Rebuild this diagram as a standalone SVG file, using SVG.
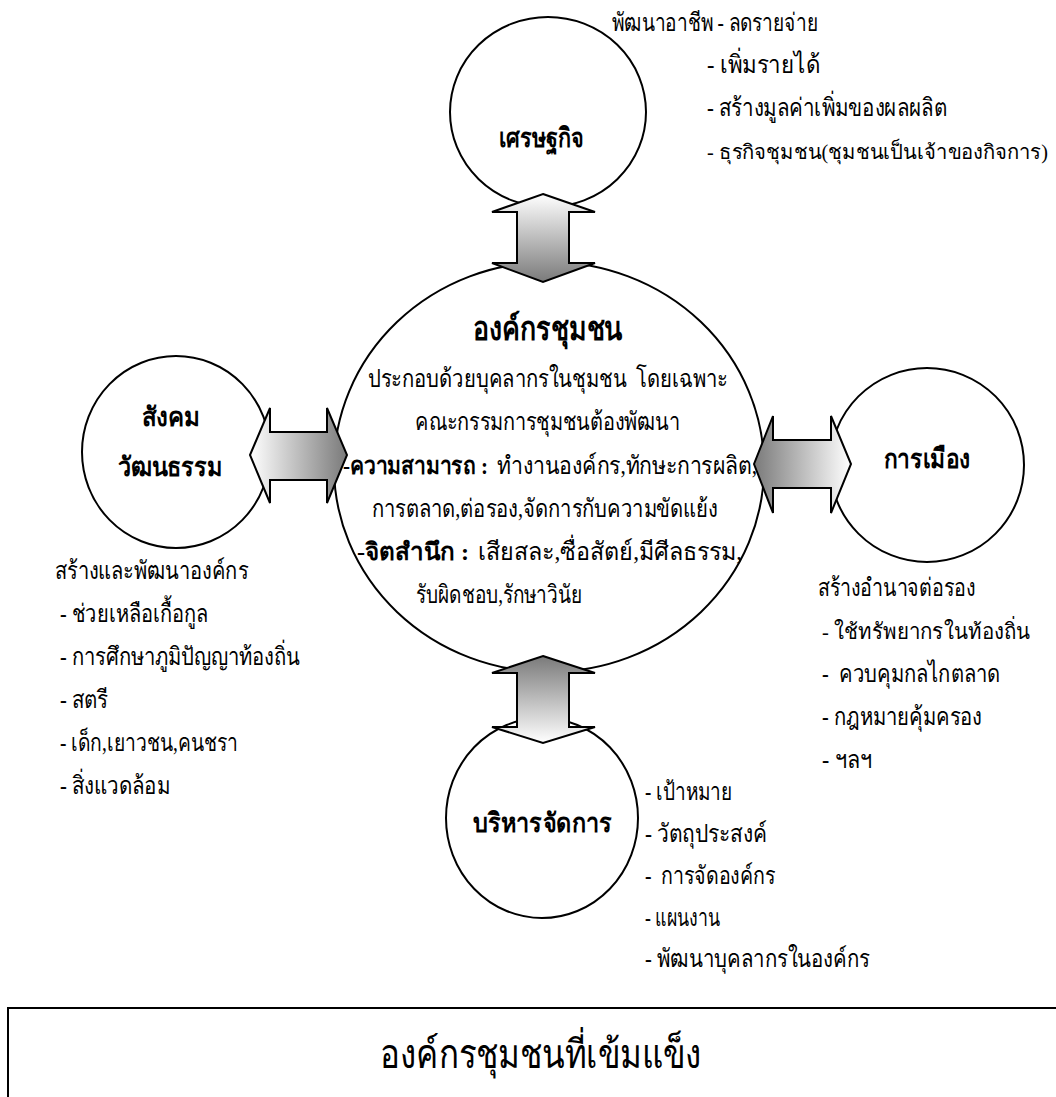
<svg xmlns="http://www.w3.org/2000/svg" width="1056" height="1097" viewBox="0 0 1056 1097">
<defs>
<style>
.c{fill:#fff;stroke:#000;stroke-width:2}
.t{font-family:"Liberation Serif",serif;font-size:25px;fill:#000}
.b{font-weight:bold;font-size:24px}
.lab{font-family:"Liberation Serif",serif;font-size:27px;font-weight:bold;fill:#000}
.arr{stroke:#000;stroke-width:2;stroke-linejoin:miter}
</style>
<linearGradient id="gDown" x1="0" y1="0" x2="0" y2="1"><stop offset="0" stop-color="#ffffff"/><stop offset="1" stop-color="#7a7a7a"/></linearGradient>
<linearGradient id="gUp" x1="0" y1="0" x2="0" y2="1"><stop offset="0" stop-color="#7a7a7a"/><stop offset="1" stop-color="#ffffff"/></linearGradient>
<linearGradient id="gRight" x1="0" y1="0" x2="1" y2="0"><stop offset="0" stop-color="#ffffff"/><stop offset="1" stop-color="#7a7a7a"/></linearGradient>
<linearGradient id="gLeft" x1="0" y1="0" x2="1" y2="0"><stop offset="0" stop-color="#7a7a7a"/><stop offset="1" stop-color="#ffffff"/></linearGradient>
</defs>

<g id="node-economy">
<ellipse class="c" cx="548" cy="112" rx="98" ry="95"/>
<text class="lab" x="499" y="147" textLength="85" lengthAdjust="spacingAndGlyphs">เศรษฐกิจ</text>
<text class="t" x="612" y="31" textLength="206" lengthAdjust="spacingAndGlyphs">พัฒนาอาชีพ - ลดรายจ่าย</text>
<text class="t" x="707" y="73" textLength="113" lengthAdjust="spacingAndGlyphs">- เพิ่มรายได้</text>
<text class="t" x="707" y="116" textLength="240" lengthAdjust="spacingAndGlyphs">- สร้างมูลค่าเพิ่มของผลผลิต</text>
<text class="t" x="707" y="159" style="font-size:20.5px" textLength="341" lengthAdjust="spacingAndGlyphs">- ธุรกิจชุมชน(ชุมชนเป็นเจ้าของกิจการ)</text>
</g>

<g id="node-community">
<ellipse class="c" cx="549" cy="467" rx="215" ry="205"/>
<text class="lab" x="473" y="340" style="font-size:33px" textLength="150" lengthAdjust="spacingAndGlyphs">องค์กรชุมชน</text>
<text class="t" x="368" y="387" xml:space="preserve" textLength="360" lengthAdjust="spacingAndGlyphs">ประกอบด้วยบุคลากรในชุมชน  โดยเฉพาะ</text>
<text class="t" x="415" y="430" textLength="265" lengthAdjust="spacingAndGlyphs">คณะกรรมการชุมชนต้องพัฒนา</text>
<text class="t b" x="343" y="474" textLength="145" lengthAdjust="spacingAndGlyphs">-ความสามารถ :</text>
<text class="t" x="497" y="474" textLength="260" lengthAdjust="spacingAndGlyphs">ทำงานองค์กร,ทักษะการผลิต,</text>
<text class="t" x="372" y="517" textLength="346" lengthAdjust="spacingAndGlyphs">การตลาด,ต่อรอง,จัดการกับความขัดแย้ง</text>
<text class="t b" x="357" y="560" textLength="112" lengthAdjust="spacingAndGlyphs">-จิตสำนึก :</text>
<text class="t" x="478" y="560" textLength="264" lengthAdjust="spacingAndGlyphs">เสียสละ,ซื่อสัตย์,มีศีลธรรม,</text>
<text class="t" x="416" y="603" textLength="166" lengthAdjust="spacingAndGlyphs">รับผิดชอบ,รักษาวินัย</text>
</g>

<g id="node-social">
<ellipse class="c" cx="176" cy="452" rx="94" ry="96"/>
<text class="lab" x="142" y="426" textLength="58" lengthAdjust="spacingAndGlyphs">สังคม</text>
<text class="lab" x="118" y="476" textLength="105" lengthAdjust="spacingAndGlyphs">วัฒนธรรม</text>
<text class="t" x="55" y="579" textLength="193" lengthAdjust="spacingAndGlyphs">สร้างและพัฒนาองค์กร</text>
<text class="t" x="60" y="622" textLength="148" lengthAdjust="spacingAndGlyphs">- ช่วยเหลือเกื้อกูล</text>
<text class="t" x="60" y="665" textLength="240" lengthAdjust="spacingAndGlyphs">- การศึกษาภูมิปัญญาท้องถิ่น</text>
<text class="t" x="60" y="708" textLength="48" lengthAdjust="spacingAndGlyphs">- สตรี</text>
<text class="t" x="60" y="751" textLength="178" lengthAdjust="spacingAndGlyphs">- เด็ก,เยาวชน,คนชรา</text>
<text class="t" x="60" y="794" textLength="110" lengthAdjust="spacingAndGlyphs">- สิ่งแวดล้อม</text>
</g>

<g id="node-politics">
<ellipse class="c" cx="927" cy="465" rx="97" ry="97"/>
<text class="lab" x="884" y="468" textLength="86" lengthAdjust="spacingAndGlyphs">การเมือง</text>
<text class="t" x="818" y="596" textLength="157" lengthAdjust="spacingAndGlyphs">สร้างอำนาจต่อรอง</text>
<text class="t" x="822" y="639" style="font-size:22px" textLength="208" lengthAdjust="spacingAndGlyphs">- ใช้ทรัพยากรในท้องถิ่น</text>
<text class="t" x="822" y="682" xml:space="preserve" textLength="178" lengthAdjust="spacingAndGlyphs">-  ควบคุมกลไกตลาด</text>
<text class="t" x="822" y="725" textLength="160" lengthAdjust="spacingAndGlyphs">- กฎหมายคุ้มครอง</text>
<text class="t" x="822" y="768" textLength="50" lengthAdjust="spacingAndGlyphs">- ฯลฯ</text>
</g>

<g id="node-management">
<ellipse class="c" cx="542" cy="818" rx="96" ry="100"/>
<text class="lab" x="473" y="832" textLength="139" lengthAdjust="spacingAndGlyphs">บริหารจัดการ</text>
<text class="t" x="645" y="800" textLength="87" lengthAdjust="spacingAndGlyphs">- เป้าหมาย</text>
<text class="t" x="645" y="842" textLength="122" lengthAdjust="spacingAndGlyphs">- วัตถุประสงค์</text>
<text class="t" x="645" y="884" xml:space="preserve" textLength="130" lengthAdjust="spacingAndGlyphs">-  การจัดองค์กร</text>
<text class="t" x="645" y="926" textLength="75" lengthAdjust="spacingAndGlyphs">- แผนงาน</text>
<text class="t" x="645" y="967" textLength="225" lengthAdjust="spacingAndGlyphs">- พัฒนาบุคลากรในองค์กร</text>
</g>

<g id="connectors">
<path class="arr" fill="url(#gDown)" d="M543,194 L595,212 L569,212 L569,263 L595,263 L543,282 L492,263 L517,263 L517,212 L492,212 Z"/>
<path class="arr" fill="url(#gUp)" d="M543,656 L595,673 L569,673 L569,727 L595,727 L543,743 L492,727 L517,727 L517,673 L492,673 Z"/>
<path class="arr" fill="url(#gRight)" d="M250,455 L270,408 L270,432 L327,432 L327,408 L347,455 L327,503 L327,480 L270,480 L270,503 Z"/>
<path class="arr" fill="url(#gLeft)" d="M754,464 L773,416 L773,440 L831,440 L831,416 L851,464 L831,513 L831,488 L773,488 L773,513 Z"/>
</g>

<g id="node-title">
<rect x="8" y="1008" width="1100" height="200" fill="none" stroke="#000" stroke-width="2"/>
<text class="t" x="380" y="1068" style="font-size:40px" textLength="322" lengthAdjust="spacingAndGlyphs">องค์กรชุมชนที่เข้มแข็ง</text>
</g>
</svg>
